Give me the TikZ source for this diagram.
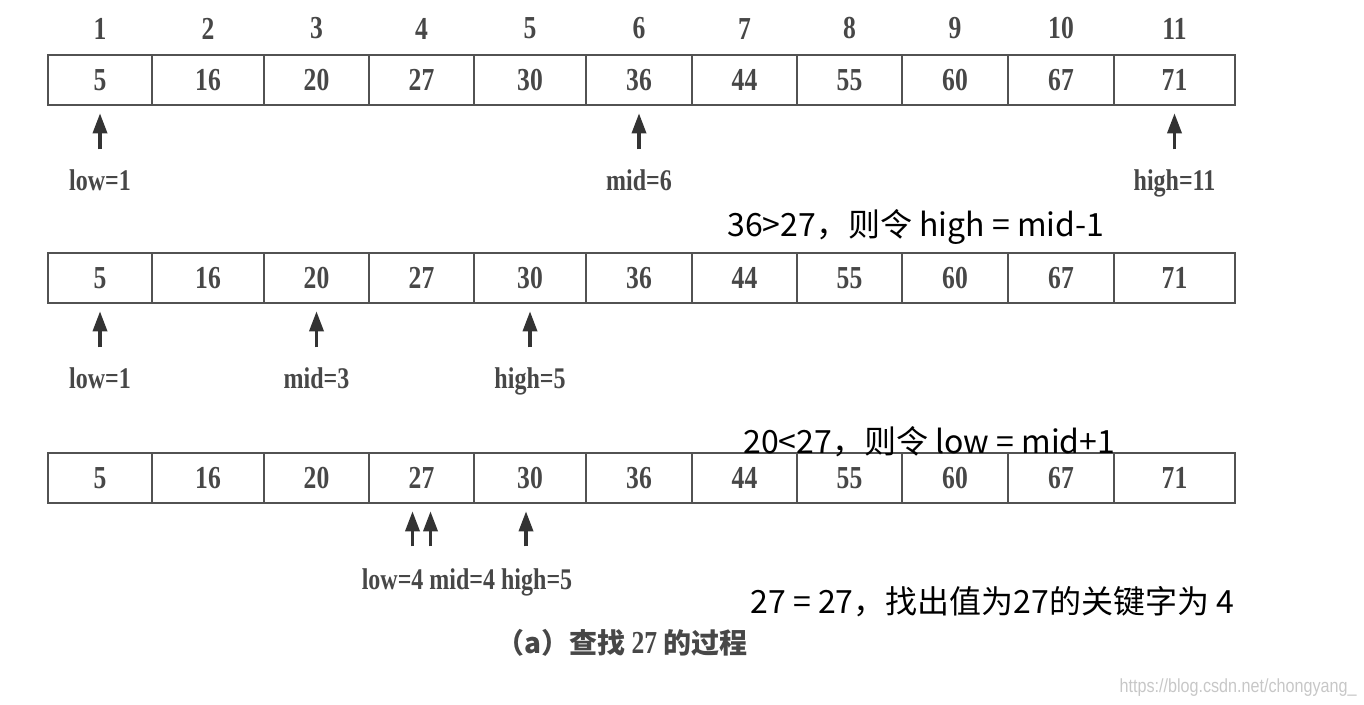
\documentclass[tikz,border=0pt]{standalone}
\usepackage{fontspec}
\setmainfont{Liberation Serif}
\newfontfamily\scanfont{Liberation Serif}[FakeStretch=0.8]
\newfontfamily\cjk{Noto Sans CJK SC}
\newfontfamily\cjkscan{Noto Sans CJK SC}
\newfontfamily\wmfont{Liberation Sans}[FakeStretch=0.85]
\usetikzlibrary{arrows.meta}

\begin{document}
\begin{tikzpicture}[x=0.5pt,y=-0.5pt,
  cell/.style={draw=black!68,line width=1.3pt,minimum height=25pt,inner sep=0pt,
    text=black!72,font=\scanfont\bfseries\fontsize{16}{16}\selectfont},
  idx/.style={inner sep=0pt,text=black!72,font=\scanfont\bfseries\fontsize{16}{16}\selectfont},
  lbl/.style={inner sep=0pt,text=black!72,font=\scanfont\bfseries\fontsize{15}{15}\selectfont},
  note/.style={inner sep=0pt,anchor=west,font=\cjk\fontsize{16}{16}\selectfont},
  ptr/.style={-{Triangle[length=10pt,width=7pt]},line width=1.7pt,black!80,shorten >=3.5pt}]
  \useasboundingbox (0,0) rectangle (1364,705);

  % three rows of the table
  \foreach \r/\y in {1/80,2/278,3/478}
    \foreach \a/\b/\v [count=\i] in {48/152/5,152/264/16,264/369/20,369/474/27,
        474/586/30,586/692/36,692/797/44,797/902/55,902/1008/60,1008/1114/67,1114/1235/71}
      \node[cell,minimum width={(\b-\a)*0.5pt}] (r\r-\i) at ({(\a+\b)/2},\y) {\v};

  % index numbers
  \foreach \i in {1,...,11}
    \node[idx,above=7pt] (n\i) at (r1-\i.north) {\i};

  % pointers
  \foreach \r/\i/\t in {1/1/low=1,1/6/mid=6,1/11/high=11,2/1/low=1,2/3/mid=3,2/5/high=5}{
    \coordinate (p\r-\i) at ([yshift=-21.5pt]r\r-\i.south);
    \draw[ptr] (p\r-\i) -- (r\r-\i.south);
    \node[lbl,below=10pt] (l\r-\i) at (p\r-\i) {\t};
  }
  \coordinate (p3-4a) at ([xshift=-4.5pt,yshift=-21pt]r3-4.south);
  \coordinate (p3-4b) at ([xshift=4.5pt,yshift=-21pt]r3-4.south);
  \coordinate (p3-5) at ([xshift=-2pt,yshift=-21pt]r3-5.south);
  \draw[ptr] (p3-4a) -- (p3-4a |- r3-4.south);
  \draw[ptr] (p3-4b) -- (p3-4b |- r3-4.south);
  \draw[ptr] (p3-5) -- (p3-5 |- r3-5.south);
  \node[lbl] (l3) at (467,582) {low=4 mid=4 high=5};

  % notes
  \node[note] (c1) at (727,227) {36>27，则令 high = mid-1};
  \node[note] (c2) at (743,442) {20<27，则令 low = mid+1};
  \node[note] (c3) at (750,602) {27 = 27，找出值为27的关键字为 4};

  \node[inner sep=0pt,text=black!72,font=\cjkscan\bfseries\fontsize{14}{14}\selectfont] (cap) at (622,643)
    {（a）查找 {\scanfont\bfseries\fontsize{16}{16}\selectfont 27} 的过程};
  \node[inner sep=0pt,anchor=east,text=black!22,font=\wmfont\fontsize{9.5}{9.5}\selectfont] (wm) at (1357,688)
    {https://blog.csdn.net/chongyang\_};
\end{tikzpicture}
\end{document}
